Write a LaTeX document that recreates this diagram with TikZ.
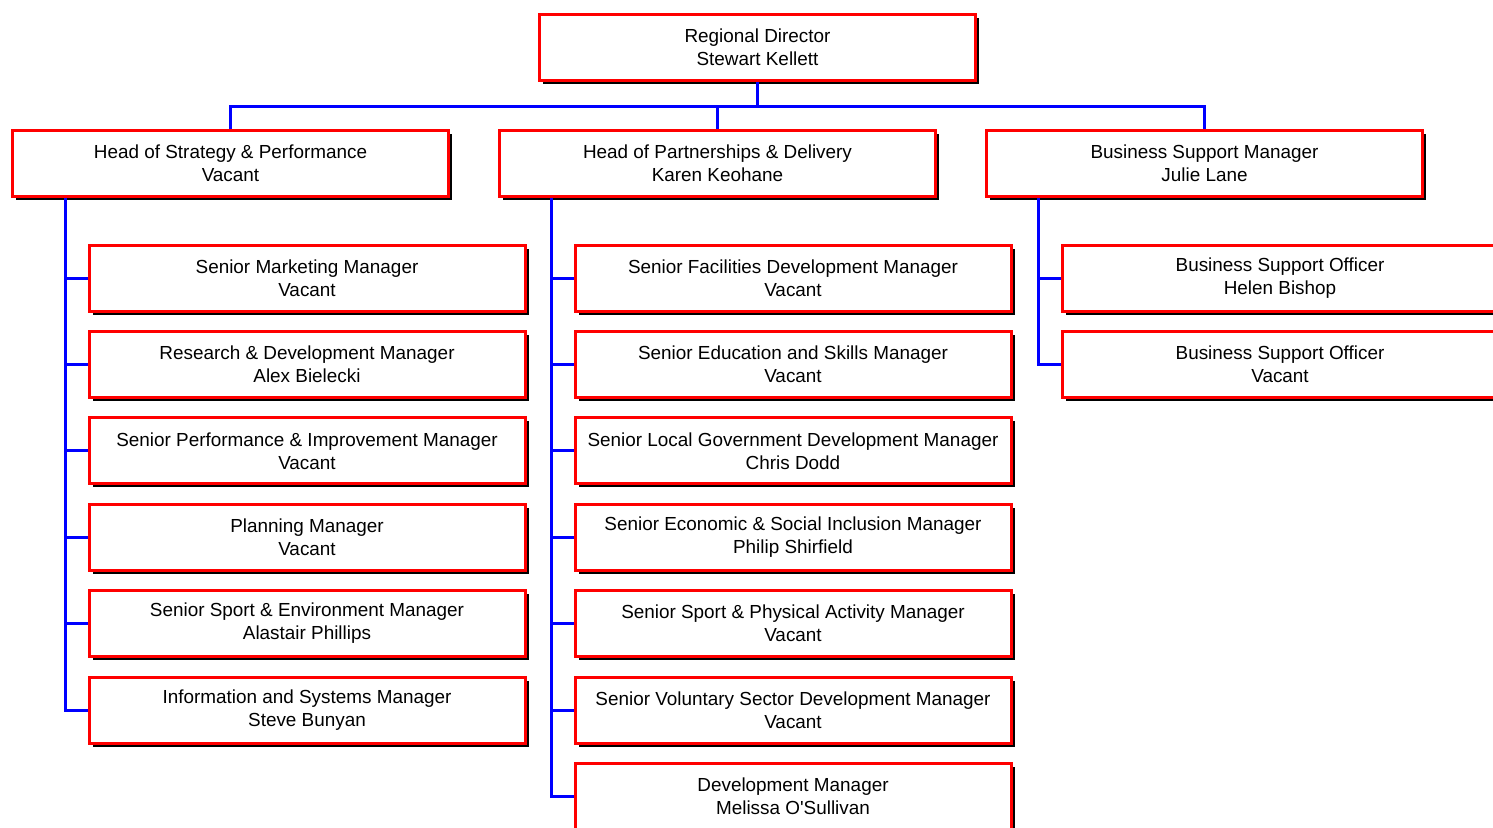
\documentclass[tikz,border=0pt]{standalone}
\usepackage{fontspec}
\setmainfont{Liberation Sans}
\usetikzlibrary{calc,shadows}
\definecolor{boxred}{HTML}{FF0000}
\definecolor{lineblue}{HTML}{0000FF}
\tikzset{post/.style={draw=boxred,line width=3pt,fill=white,minimum width=436pt,minimum height=66pt,
inner sep=0pt,anchor=north west,align=center,font=\fontsize{18.9}{23}\selectfont,
drop shadow={shadow xshift=3.5pt,shadow yshift=-3.5pt,fill=black,opacity=1}},
link/.style={lineblue,line width=3pt}}
\begin{document}
\begin{tikzpicture}[x=1pt,y=1pt]
\useasboundingbox (0,0) rectangle (1493,-827);
\clip (0,0) rectangle (1493,-827);
% top and heads
\node[post] (rd) at (538,-13) {Regional Director\\Stewart Kellett};
\node[post] (hsp) at (11,-128.5) {Head of Strategy \& Performance\\Vacant};
\node[post] (hpd) at (498,-128.5) {Head of Partnerships \& Delivery\\Karen Keohane};
\node[post] (bsm) at (985,-128.5) {Business Support Manager\\Julie Lane};
\coordinate (bus) at (0,-106);
\foreach \h in {hsp,hpd,bsm}
\draw[link] (rd.south) -- (rd.south |- bus) -| (\h.north);
% strategy & performance
\foreach \i/\title in {1/{Senior Marketing Manager\\Vacant},2/{Research \& Development Manager\\Alex Bielecki},
3/{Senior Performance \& Improvement Manager\\Vacant},4/{Planning Manager\\Vacant},
5/{Senior Sport \& Environment Manager\\Alastair Phillips},6/{Information and Systems Manager\\Steve Bunyan}}{
\node[post] (sp\i) at (87.5,{-243.5-86.4*(\i-1)}) {\title};}
\coordinate (spA) at ($(hsp.south west)+(54,0)$);
\draw[link] (spA) |- (sp6.west);
\foreach \i in {1,...,5} \draw[link] (spA |- sp\i.west) -- (sp\i.west);
% partnerships & delivery
\foreach \i/\title in {1/{Senior Facilities Development Manager\\Vacant},2/{Senior Education and Skills Manager\\Vacant},
3/{Senior Local Government Development Manager\\Chris Dodd},4/{Senior Economic \& Social Inclusion Manager\\Philip Shirfield},
5/{Senior Sport \& Physical Activity Manager\\Vacant},6/{Senior Voluntary Sector Development Manager\\Vacant},
7/{Development Manager\\Melissa O\textquotesingle Sullivan}}{
\node[post] (pd\i) at (573.5,{-243.5-86.4*(\i-1)}) {\title};}
\coordinate (pdA) at ($(hpd.south west)+(53,0)$);
\draw[link] (pdA) |- (pd7.west);
\foreach \i in {1,...,6} \draw[link] (pdA |- pd\i.west) -- (pd\i.west);
% business support
\foreach \i/\title in {1/{Business Support Officer\\Helen Bishop},2/{Business Support Officer\\Vacant}}{
\node[post] (bs\i) at (1060.5,{-243.5-86.4*(\i-1)}) {\title};}
\coordinate (bsA) at ($(bsm.south west)+(53,0)$);
\draw[link] (bsA) |- (bs2.west);
\draw[link] (bsA |- bs1.west) -- (bs1.west);
\end{tikzpicture}
\end{document}
